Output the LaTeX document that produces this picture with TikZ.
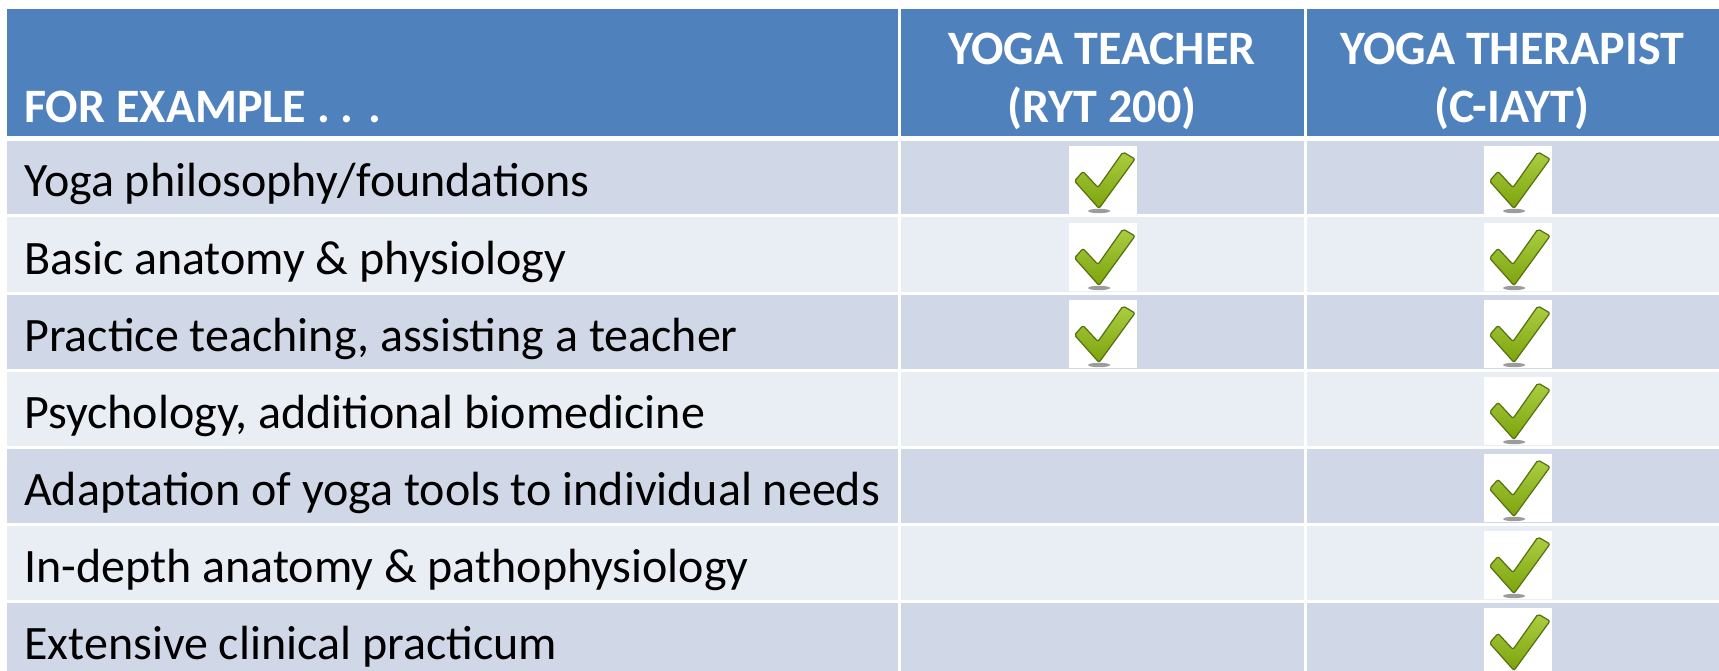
\documentclass[tikz,border=0pt]{standalone}
\usepackage{fontspec}
\setmainfont{Carlito}
\usetikzlibrary{positioning}
\definecolor{hdrblue}{HTML}{4F81BD}
\definecolor{rowdark}{HTML}{D0D8E8}
\definecolor{rowlight}{HTML}{E9EDF4}
\definecolor{tickgreen}{HTML}{7DA30C}
\definecolor{ticklight}{HTML}{AACE42}
\definecolor{tickedge}{HTML}{55700F}

\tikzset{
  hdr/.style={text=white,font=\fontsize{48}{58}\selectfont\bfseries,inner sep=0pt,align=center},
  lbl/.style={anchor=base west,font=\fontsize{48}{58}\selectfont,inner sep=0pt},
  tickbox/.style={fill=white,inner sep=0pt,minimum width=68pt,minimum height=68pt},
  tick/.pic={
    \fill[black!55,opacity=.7] (-4,31) ellipse [x radius=11,y radius=2.2];
    \shadedraw[top color=ticklight,bottom color=tickgreen,draw=tickedge,line width=1.2pt,rounded corners=2pt]
      (20,-28) -- (32,-21) -- (-4,28.5) -- (-28.5,1) -- (-20,-8.5) -- (-5,7.5) -- cycle;
  }
}

\begin{document}
\begin{tikzpicture}[x=1pt,y=-1pt]
\useasboundingbox[fill=white] (0,0) rectangle (1719,671);

\fill[hdrblue] (7,9) rectangle (1719,136);
\fill[rowdark] (7,141.5) rectangle (1719,214.5);
\fill[rowlight] (7,217.5) rectangle (1719,291.5);
\fill[rowdark] (7,294.5) rectangle (1719,368.5);
\fill[rowlight] (7,371.5) rectangle (1719,445.5);
\fill[rowdark] (7,448.5) rectangle (1719,522.5);
\fill[rowlight] (7,525.5) rectangle (1719,599.5);
\fill[rowdark] (7,602.5) rectangle (1719,671);
\fill[white] (897.5,9) rectangle (900.5,671);
\fill[white] (1303.5,9) rectangle (1306.5,671);

\node (ex) at (24,123)[hdr,anchor=base west] {FOR EXAMPLE . . .};
\node (teacher) at (1102,81)[hdr] {YOGA TEACHER\\(RYT 200)};
\node (therapist) at (1512,81)[hdr] {YOGA THERAPIST\\(C-IAYT)};

\node (r1) at (24,197)[lbl] {Yoga philosophy/foundations};
\node (r2) at (24,274)[lbl] {Basic anatomy \& physiology};
\node (r3) at (24,351)[lbl] {Practice teaching, assisting a teacher};
\node (r4) at (24,428)[lbl] {Psychology, additional biomedicine};
\node (r5) at (24,505)[lbl] {Adaptation of yoga tools to individual needs};
\node (r6) at (24,582)[lbl] {In-depth anatomy \& pathophysiology};
\node (r7) at (24,659)[lbl] {Extensive clinical practicum};

\node (t1) at (1103,180)[tickbox] {};
\node (t2) at (1103,257)[tickbox] {};
\node (t3) at (1103,334)[tickbox] {};

\node (p1) at (1518,180)[tickbox] {};
\node (p2) at (1518,257)[tickbox] {};
\node (p3) at (1518,334)[tickbox] {};
\node (p4) at (1518,411)[tickbox] {};
\node (p5) at (1518,488)[tickbox] {};
\node (p6) at (1518,565)[tickbox] {};
\node (p7) at (1518,642)[tickbox] {};

\pic at (t1) {tick};
\pic at (t2) {tick};
\pic at (t3) {tick};
\pic at (p1) {tick};
\pic at (p2) {tick};
\pic at (p3) {tick};
\pic at (p4) {tick};
\pic at (p5) {tick};
\pic at (p6) {tick};
\pic at (p7) {tick};

\end{tikzpicture}
\end{document}
